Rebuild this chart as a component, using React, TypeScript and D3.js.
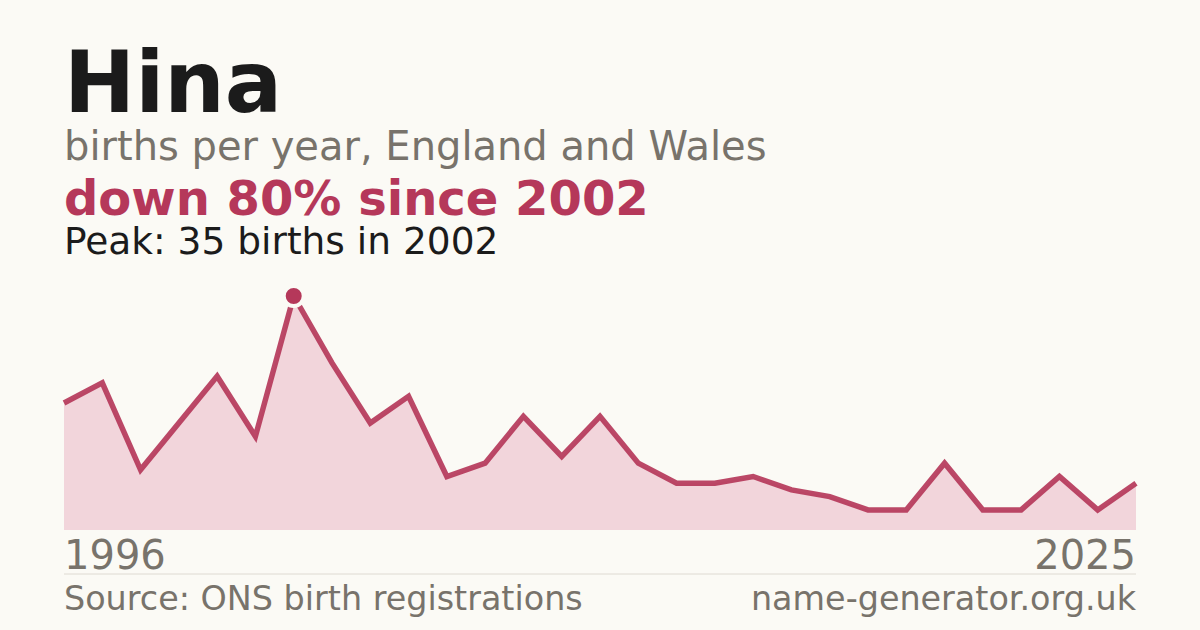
import React from 'react';
import * as d3 from 'd3';

// Births per year for the name
const years = [
  1996, 1997, 1998, 1999, 2000, 2001, 2002, 2003, 2004, 2005,
  2006, 2007, 2008, 2009, 2010, 2011, 2012, 2013, 2014, 2015,
  2016, 2017, 2018, 2019, 2021, 2022, 2023, 2024, 2025,
];
const births = [
  19, 22, 9, 16, 23, 14, 35, 25, 16, 20,
  8, 10, 17, 11, 17, 10, 7, 7, 8, 6,
  5, 3, 3, 10, 3, 3, 8, 3, 7,
];
const yearLabels = ['1996', '2025'];

const title = 'Hina';
const subtitle = 'births per year, England and Wales';
const trendText = 'down 80% since 2002';
const peakText = 'Peak: 35 births in 2002';
const sourceText = 'Source: ONS birth registrations';
const siteText = 'name-generator.org.uk';

const colors = {
  bg: '#fbfaf5',
  ink: '#1b1b1b',
  gray: '#78736b',
  accent: '#b5385a',
  fill: '#f2d5db',
  rule: '#dedad2',
};

const font = '"DejaVu Sans", Verdana, sans-serif';

const App: React.FC = () => {
  const width = 1200;
  const height = 630;
  const left = 64;
  const right = 1136;
  const top = 296;
  const bottom = 530;

  const x = d3.scalePoint<number>().domain(years).range([left, right]);
  const y = d3.scaleLinear().domain([0, d3.max(births)!]).range([bottom, top]);

  const points = years.map((yr, i) => ({ yr, v: births[i] }));

  const line = d3.line<{ yr: number; v: number }>()
    .x(d => x(d.yr)!)
    .y(d => y(d.v));

  const area = d3.area<{ yr: number; v: number }>()
    .x(d => x(d.yr)!)
    .y0(bottom)
    .y1(d => y(d.v));

  const peakIdx = d3.maxIndex(births);
  const peak = points[peakIdx];

  return (
    <svg
      width={width}
      height={height}
      style={{ position: 'absolute', left: 0, top: 0, display: 'block' }}
      fontFamily={font}
    >
      <rect width={width} height={height} fill={colors.bg} />

      <text x={64} y={112} fontSize={85} fontWeight={700} fill={colors.ink}>{title}</text>
      <text x={64} y={160} fontSize={40} fill={colors.gray}>{subtitle}</text>
      <text x={64} y={215} fontSize={48} fontWeight={700} fill={colors.accent}>{trendText}</text>
      <text x={64} y={254} fontSize={37.5} fill={colors.ink}>{peakText}</text>

      <path d={area(points)!} fill={colors.fill} />
      <path
        d={line(points)!}
        fill="none"
        stroke={colors.accent}
        strokeWidth={5.5}
        strokeLinejoin="miter"
        strokeOpacity={0.92}
      />
      <circle
        cx={x(peak.yr)!}
        cy={y(peak.v)}
        r={10}
        fill={colors.accent}
        stroke={colors.bg}
        strokeWidth={4}
      />

      <text x={left} y={569} fontSize={40} fill={colors.gray}>{yearLabels[0]}</text>
      <text x={right} y={569} fontSize={40} fill={colors.gray} textAnchor="end">{yearLabels[1]}</text>

      <line x1={left} x2={right} y1={574} y2={574} stroke={colors.rule} strokeWidth={1} />

      <text x={64} y={610} fontSize={33.4} fill={colors.gray}>{sourceText}</text>
      <text x={right} y={610} fontSize={33.4} fill={colors.gray} textAnchor="end">{siteText}</text>
    </svg>
  );
};

export default App;
